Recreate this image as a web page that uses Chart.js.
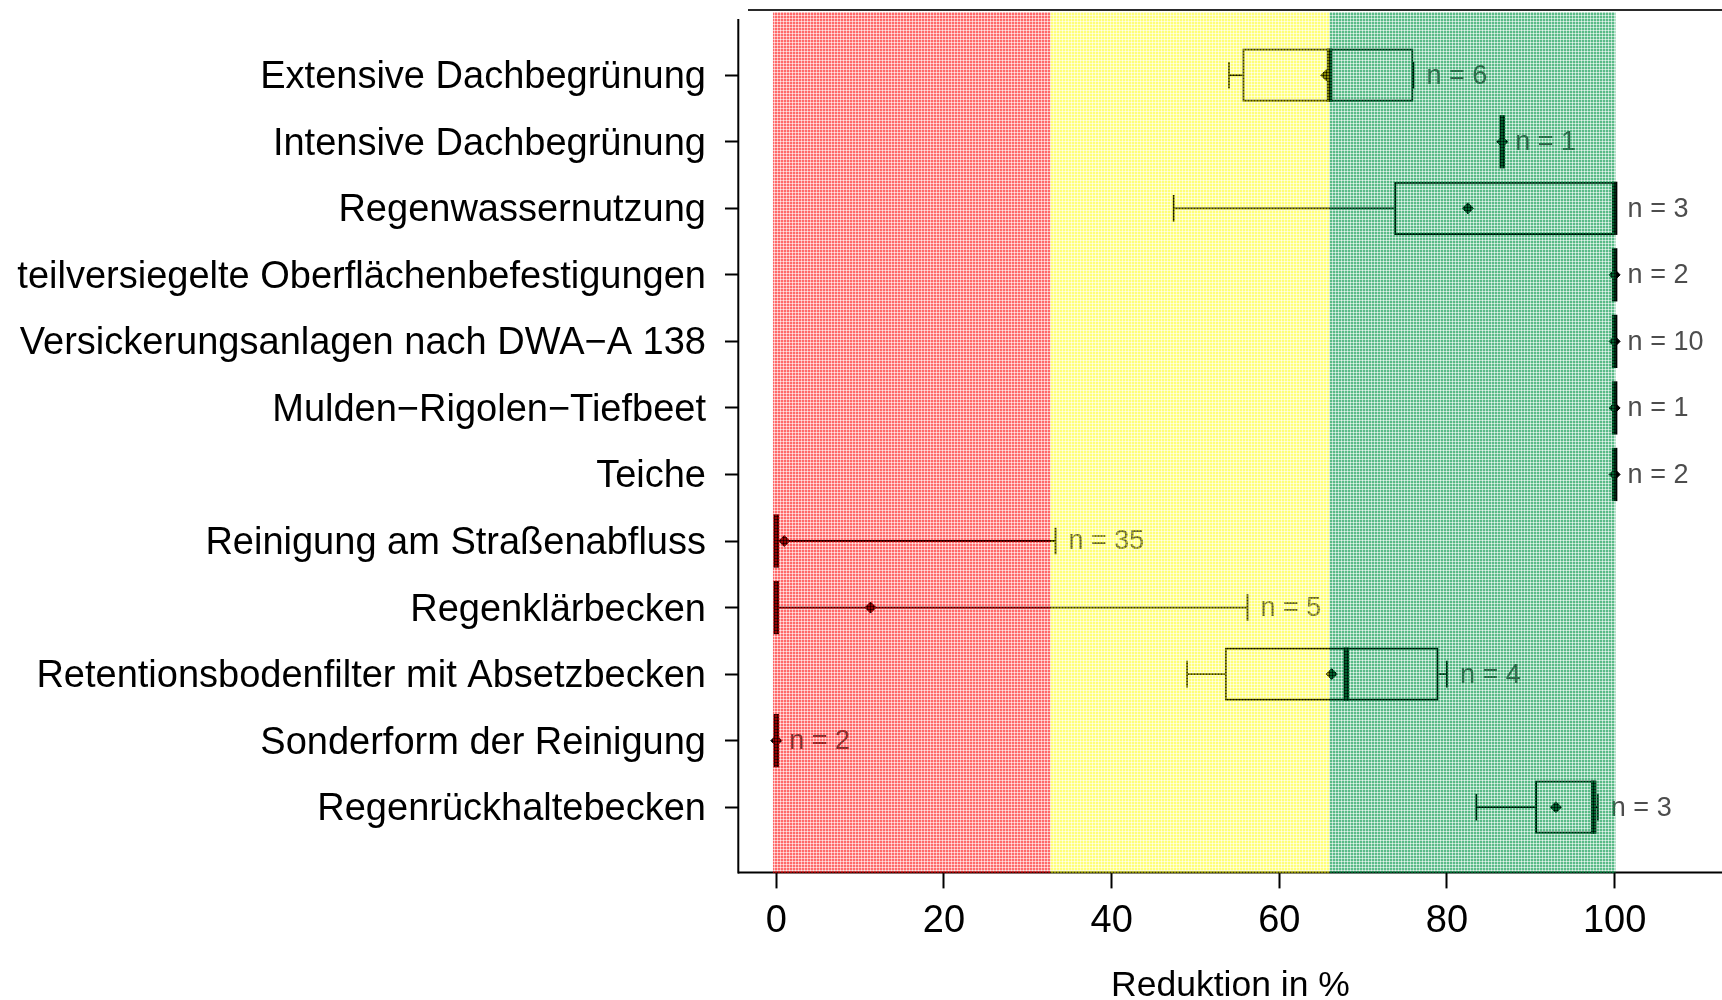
<!DOCTYPE html>
<html>
<head>
<meta charset="utf-8">
<script src="https://cdn.jsdelivr.net/npm/chart.js@4.4.1/dist/chart.umd.min.js"></script>
<style>
  html, body { margin: 0; padding: 0; background: #fff; }
  #wrap { width: 1722px; height: 1000px; position: relative; overflow: hidden; }
</style>
</head>
<body>
<div id="wrap"><canvas id="chart" width="1722" height="1000"></canvas></div>
<script>
// Measures (top to bottom) and their reduction statistics in %
const categories = [
  'Extensive Dachbegrünung',
  'Intensive Dachbegrünung',
  'Regenwassernutzung',
  'teilversiegelte Oberflächenbefestigungen',
  'Versickerungsanlagen nach DWA−A 138',
  'Mulden−Rigolen−Tiefbeet',
  'Teiche',
  'Reinigung am Straßenabfluss',
  'Regenklärbecken',
  'Retentionsbodenfilter mit Absetzbecken',
  'Sonderform der Reinigung',
  'Regenrückhaltebecken'
];
const minVals  = [54.0, 86.6, 47.4, 100, 100, 100, 100, 0, 0, 49.0, 0, 83.5];
const q1Vals   = [55.6, 86.6, 73.7, 100, 100, 100, 100, 0, 0, 53.5, 0, 90.5];
const medVals  = [66.0, 86.6, 100, 100, 100, 100, 100, 0, 0, 68.0, 0, 97.5];
const q3Vals   = [76.0, 86.6, 100, 100, 100, 100, 100, 0, 0, 79.0, 0, 97.75];
const maxVals  = [76.0, 86.6, 100, 100, 100, 100, 100, 33.3, 56.2, 80.0, 0, 98.0];
const meanVals = [65.6, 86.6, 82.5, 100, 100, 100, 100, 0.95, 11.24, 66.25, 0, 93.0];
const nVals    = [6, 1, 3, 2, 10, 1, 2, 35, 5, 4, 2, 3];
const xTicks   = [0, 20, 40, 60, 80, 100];
// rating bands: low / medium / high reduction
const bandFrom = [-0.4, 32.7, 66.0];
const bandTo   = [32.7, 66.0, 100.1];

// band tints (colour + mean opacity), laid over the boxes
const bandStyles = [
  { rgb: [255, 0, 0],   alpha: 0.39 },
  { rgb: [255, 255, 0], alpha: 0.35 },
  { rgb: [0, 150, 70],  alpha: 0.43 }
];

const FONT = "'Liberation Sans', Arial, Helvetica, sans-serif";
Chart.defaults.font.family = FONT;
Chart.defaults.color = '#000';

// small plaid tile so the tint has a woven texture
function bandPattern(ctx, rgb, alpha) {
  const t = document.createElement('canvas');
  t.width = 3; t.height = 3;
  const g = t.getContext('2d');
  const img = g.createImageData(3, 3);
  const base = alpha / 0.661;
  for (let yy = 0; yy < 3; yy++) {
    for (let xx = 0; xx < 3; xx++) {
      let f = 1;
      if (xx === 0 || yy === 0) f = 0.45;
      if (xx === 0 && yy === 0) f = 0.15;
      const k = (yy * 3 + xx) * 4;
      img.data[k] = rgb[0]; img.data[k + 1] = rgb[1]; img.data[k + 2] = rgb[2];
      img.data[k + 3] = Math.round(255 * Math.min(1, base * f));
    }
  }
  g.putImageData(img, 0, 0);
  return ctx.createPattern(t, 'repeat');
}

function seg(ctx, x1, y1, x2, y2) {
  ctx.beginPath(); ctx.moveTo(x1, y1); ctx.lineTo(x2, y2); ctx.stroke();
}

const boxParts = {
  id: 'boxParts',
  beforeDatasetsDraw(chart) {
    const { ctx, scales: { x, y } } = chart;
    const meta = chart.getDatasetMeta(0);
    ctx.save();
    ctx.strokeStyle = '#000';
    ctx.lineCap = 'butt';
    categories.forEach((c, i) => {
      const half = meta.data[i].height / 2;
      const yc = y.getPixelForValue(i + 1);
      const pMin = x.getPixelForValue(minVals[i]);
      const pQ1 = x.getPixelForValue(q1Vals[i]);
      const pQ3 = x.getPixelForValue(q3Vals[i]);
      const pMax = x.getPixelForValue(maxVals[i]);
      const pMed = x.getPixelForValue(medVals[i]);
      // whiskers and staples
      ctx.lineWidth = 1.8;
      if (pQ1 > pMin) seg(ctx, pMin, yc, pQ1, yc);
      if (pMax > pQ3) seg(ctx, pQ3, yc, pMax, yc);
      seg(ctx, pMin, yc - half / 2, pMin, yc + half / 2);
      seg(ctx, pMax, yc - half / 2, pMax, yc + half / 2);
      // median
      ctx.lineWidth = 5.5;
      seg(ctx, pMed, yc - half, pMed, yc + half);
    });
    ctx.restore();
  },
  afterDatasetsDraw(chart) {
    const { ctx, chartArea: a, scales: { x, y } } = chart;
    ctx.save();
    // sample sizes
    ctx.font = `27px ${FONT}`;
    ctx.fillStyle = '#4d4d4d';
    ctx.textAlign = 'left';
    ctx.textBaseline = 'middle';
    categories.forEach((c, i) => {
      ctx.fillText('n = ' + nVals[i], x.getPixelForValue(maxVals[i]) + 13, y.getPixelForValue(i + 1) + 1);
    });
    // bottom frame line
    ctx.strokeStyle = '#000';
    ctx.lineWidth = 2;
    seg(ctx, a.left - 1, a.bottom, a.right, a.bottom);
    // rating bands on top
    bandStyles.forEach((s, i) => {
      const x1 = x.getPixelForValue(bandFrom[i]);
      const x2 = x.getPixelForValue(bandTo[i]);
      ctx.fillStyle = bandPattern(ctx, s.rgb, s.alpha);
      ctx.fillRect(x1, a.top + 2, x2 - x1, a.bottom + 1 - (a.top + 2));
    });
    ctx.restore();
  },
  afterDraw(chart) {
    const { ctx, chartArea: a } = chart;
    ctx.save();
    ctx.lineWidth = 2;
    ctx.strokeStyle = '#000';
    seg(ctx, a.left - 0.7, a.top + 9, a.left - 0.7, a.bottom + 1);
    ctx.strokeStyle = '#2a2a2a';
    seg(ctx, a.left + 9, a.top, a.right, a.top);
    ctx.restore();
  }
};

new Chart(document.getElementById('chart'), {
  type: 'bar',
  data: {
    datasets: [
      {
        type: 'bar',
        indexAxis: 'y',
        xAxisID: 'x',
        yAxisID: 'y',
        data: categories.map((c, i) => ({ x: [q1Vals[i], q3Vals[i]], y: i + 1 })),
        backgroundColor: 'rgba(0,0,0,0)',
        borderColor: '#000',
        borderWidth: 2,
        borderSkipped: false,
        categoryPercentage: 1,
        barPercentage: 0.8
      },
      {
        type: 'scatter',
        xAxisID: 'x',
        yAxisID: 'y',
        data: categories.map((c, i) => ({ x: meanVals[i], y: i + 1 })),
        pointStyle: 'rectRot',
        pointRadius: 5.5,
        backgroundColor: '#000',
        borderColor: '#000',
        borderWidth: 1
      }
    ]
  },
  options: {
    responsive: false,
    animation: false,
    events: [],
    layout: { autoPadding: false, padding: { top: 10, left: 0, right: 0, bottom: 0 } },
    plugins: { legend: { display: false }, tooltip: { enabled: false } },
    scales: {
      x: {
        type: 'linear',
        position: 'bottom',
        offset: false,
        min: -4.45,
        max: 112.81,
        afterBuildTicks: s => { s.ticks = xTicks.map(v => ({ value: v })); },
        ticks: { font: { size: 38 }, color: '#000', padding: 10, autoSkip: false, maxRotation: 0 },
        grid: { display: true, offset: false, drawOnChartArea: false, drawTicks: true, tickLength: 16, tickWidth: 2, tickColor: '#000' },
        border: { display: false },
        title: {
          display: true, text: 'Reduktion in %', color: '#000',
          font: { size: 35.5, lineHeight: 1 }, padding: { top: 0, bottom: -3.5 }
        },
        afterFit: s => { s.height = 127.6; s.paddingLeft = 0; s.paddingRight = 0; }
      },
      y: {
        type: 'linear',
        position: 'left',
        reverse: true,
        min: 0.02,
        max: 12.98,
        offset: false,
        afterBuildTicks: s => { s.ticks = categories.map((c, i) => ({ value: i + 1 })); },
        ticks: {
          font: { size: 38 }, color: '#000', padding: 19, autoSkip: false, labelOffset: 2.5,
          callback: v => categories[v - 1] || ''
        },
        grid: { display: true, offset: false, drawOnChartArea: false, drawTicks: true, tickLength: 14, tickWidth: 2, tickColor: '#000' },
        border: { display: false },
        afterFit: s => { s.width = 739; s.paddingTop = 0; s.paddingBottom = 0; }
      }
    }
  },
  plugins: [boxParts]
});
</script>
</body>
</html>
